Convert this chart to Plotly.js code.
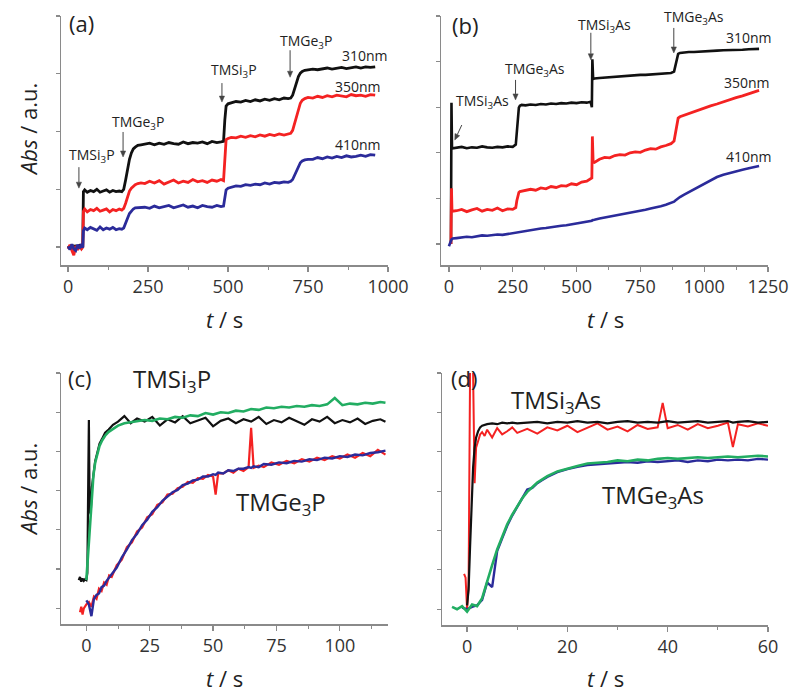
<!DOCTYPE html>
<html>
<head>
<meta charset="utf-8">
<script src="https://cdn.plot.ly/plotly-3.0.1.min.js"></script>
<style>html,body{margin:0;padding:0;background:#fff}#chart{width:800px;height:696px}</style>
</head>
<body>
<div id="chart"></div>
<script>
// ---------- Panel (a): TMSi3P / TMGe3P additions, absorbance at 3 wavelengths ----------
const tA = [0,6,12,18,24,30,36,42,46,
  48,52,60,70,80,90,100,110,120,130,140,150,160,168,
  174,180,186,192,198,204,210,218,228,
  240,255,270,285,300,315,330,345,360,375,390,405,420,435,450,465,478,486,
  490,494,500,510,525,540,555,570,585,600,615,630,645,660,675,688,696,
  702,708,714,720,726,732,740,750,
  765,780,795,810,825,840,855,870,885,900,915,930,945,960];
const a310 = [0.02,-0.03,0.04,-0.02,0.03,-0.04,0.02,-0.02,0.01,
  0.96,0.99,0.95,0.98,0.96,1.00,0.95,0.97,0.99,0.95,0.98,0.96,0.97,0.96,
  1.00,1.16,1.36,1.52,1.63,1.70,1.73,1.76,1.77,
  1.78,1.80,1.77,1.80,1.78,1.81,1.79,1.78,1.82,1.79,1.81,1.80,1.82,1.79,1.83,1.81,1.82,1.83,
  2.20,2.44,2.48,2.50,2.52,2.51,2.54,2.52,2.55,2.53,2.56,2.54,2.57,2.55,2.58,2.57,2.58,
  2.63,2.74,2.86,2.95,3.01,3.04,3.06,3.07,
  3.08,3.07,3.09,3.10,3.08,3.10,3.11,3.09,3.11,3.12,3.10,3.12,3.11,3.12];
const a350 = [-0.03,0.04,-0.06,-0.14,0.02,-0.05,0.03,-0.03,0.00,
  0.62,0.66,0.61,0.65,0.63,0.67,0.62,0.64,0.66,0.61,0.65,0.63,0.66,0.64,
  0.67,0.76,0.88,0.97,1.02,1.06,1.08,1.10,1.11,
  1.10,1.14,1.11,1.15,1.09,1.13,1.16,1.11,1.14,1.12,1.17,1.13,1.15,1.12,1.16,1.14,1.17,1.15,
  1.60,1.86,1.88,1.90,1.89,1.92,1.90,1.93,1.91,1.94,1.92,1.95,1.93,1.96,1.94,1.96,1.97,
  2.02,2.14,2.28,2.40,2.49,2.54,2.57,2.59,
  2.58,2.61,2.59,2.62,2.60,2.63,2.61,2.60,2.64,2.62,2.63,2.61,2.64,2.63];
const a410 = [0.01,-0.04,0.05,-0.03,-0.06,0.04,-0.02,0.05,-0.01,
  0.28,0.33,0.30,0.34,0.31,0.29,0.35,0.30,0.33,0.31,0.34,0.30,0.32,0.31,
  0.33,0.40,0.50,0.58,0.63,0.66,0.68,0.68,0.69,
  0.69,0.67,0.71,0.68,0.70,0.72,0.68,0.70,0.73,0.69,0.71,0.68,0.72,0.70,0.69,0.72,0.70,0.71,
  0.88,0.99,1.02,1.04,1.06,1.05,1.08,1.07,1.09,1.08,1.11,1.09,1.12,1.11,1.13,1.12,1.14,
  1.17,1.24,1.33,1.40,1.46,1.49,1.51,1.52,
  1.52,1.55,1.53,1.56,1.54,1.57,1.55,1.58,1.56,1.57,1.59,1.57,1.60,1.59];

// ---------- Panel (b): TMSi3As / TMGe3As additions ----------
const tB = [0,5,8,10,12,15,
  30,50,70,90,110,130,150,170,190,210,230,250,
  262,266,270,274,278,285,
  300,320,340,360,380,400,420,440,460,480,500,520,540,
  555,560,562,565,570,
  590,610,630,650,670,690,710,730,750,770,790,810,830,850,870,
  882,886,890,894,898,905,
  920,940,960,980,1000,1025,1050,1075,1100,1125,1150,1175,1200,1215];
const b310 = [null,null,0.0,3.10,2.12,2.10,
  2.11,2.13,2.10,2.12,2.11,2.14,2.12,2.11,2.13,2.12,2.14,2.13,
  2.18,2.50,2.85,2.99,3.03,3.05,
  3.04,3.06,3.05,3.07,3.06,3.08,3.07,3.09,3.08,3.10,3.09,3.11,3.10,
  3.12,3.00,4.05,3.62,3.63,
  3.64,3.65,3.66,3.66,3.68,3.68,3.69,3.70,3.71,3.71,3.72,3.73,3.74,3.74,3.75,
  3.78,3.88,4.02,4.12,4.17,4.19,
  4.20,4.21,4.21,4.22,4.23,4.23,4.24,4.25,4.25,4.26,4.26,4.27,4.28,4.28];
const b350 = [null,null,0.0,1.22,0.74,0.72,
  0.73,0.76,0.71,0.75,0.78,0.72,0.76,0.74,0.79,0.73,0.77,0.76,
  0.80,0.95,1.08,1.13,1.15,1.16,
  1.17,1.20,1.18,1.23,1.21,1.26,1.24,1.28,1.27,1.32,1.30,1.36,1.38,
  1.42,1.45,2.36,1.80,1.79,
  1.86,1.90,1.89,1.94,1.96,1.95,2.00,2.02,2.01,2.06,2.09,2.08,2.13,2.16,2.20,
  2.26,2.40,2.58,2.70,2.76,2.79,
  2.82,2.87,2.90,2.95,2.98,3.03,3.07,3.12,3.16,3.21,3.25,3.30,3.34,3.37];
const b410 = [-0.05,0.04,0.08,0.10,0.11,0.12,
  0.13,0.14,0.16,0.15,0.17,0.19,0.18,0.20,0.21,0.20,0.22,0.23,
  0.24,0.25,0.25,0.26,0.26,0.27,
  0.29,0.31,0.32,0.34,0.35,0.37,0.38,0.40,0.41,0.43,0.44,0.46,0.48,
  0.50,0.51,0.52,0.52,0.53,
  0.56,0.58,0.61,0.63,0.65,0.67,0.69,0.71,0.73,0.75,0.78,0.80,0.83,0.86,0.90,
  0.93,0.95,0.97,0.99,1.01,1.03,
  1.08,1.14,1.20,1.26,1.32,1.40,1.47,1.52,1.56,1.59,1.63,1.66,1.69,1.71];

// ---------- Panel (c): kinetics, TMSi3P (black data, green) and TMGe3P (red data, blue) ----------
const tCfast = [-3,-2.5,-2,-1.5,-1,-0.5,0,
  0.4,0.8,1.0,1.3,1.7,2.2,2.8,3.5,4.3,5.2,6.2,7.4,8.8,10.5,12.5,
  15,17.5,20,
  23,26,29,32,35,38,41,44,47,50,53,56,59,62,65,68,71,74,77,80,83,86,89,92,95,98,101,104,107,110,113,116,118];
const cSiBlack = [0.36,0.40,0.34,0.38,0.35,0.37,0.36,
  0.45,1.80,2.40,1.25,1.20,1.55,1.72,1.88,1.98,2.10,2.16,2.24,2.28,2.34,2.38,
  2.45,2.36,2.42,
  2.38,2.44,2.33,2.41,2.37,2.45,2.36,2.40,2.43,2.32,2.39,2.42,2.36,2.41,2.38,2.44,2.35,2.40,2.37,2.43,2.39,2.34,2.41,2.38,2.44,2.36,2.40,2.37,2.42,2.35,2.39,2.41,2.38];
const cSiGreen = [null,null,null,null,null,null,0.36,
  0.55,0.80,0.92,1.08,1.28,1.50,1.70,1.86,1.98,2.07,2.14,2.20,2.25,2.29,2.33,
  2.36,2.37,2.38,
  2.40,2.39,2.42,2.41,2.44,2.43,2.46,2.45,2.49,2.47,2.50,2.49,2.52,2.51,2.54,2.53,2.56,2.55,2.57,2.56,2.58,2.57,2.59,2.58,2.60,2.68,2.59,2.61,2.60,2.62,2.61,2.63,2.62];
const tCslow = [-2.5,-2,-1.5,-1,
  0,1,2,3,4,5,6,7,8,9,10,
  12,14,16,18,20,22,24,26,28,30,32,34,36,38,40,42,44,46,48,50,
  51,52,54,56,58,60,62,64,65,66,68,70,
  73,76,79,82,85,88,91,94,97,100,103,106,109,112,115,118];
const cGeRed = [-0.05,0.02,-0.08,0.00,
  0.05,0.08,0.02,0.15,0.12,0.25,0.22,0.33,0.30,0.42,0.40,
  0.55,0.62,0.78,0.84,0.98,1.03,1.16,1.20,1.32,1.35,1.45,1.46,1.53,1.55,1.61,1.60,1.66,1.65,1.70,1.68,
  1.45,1.72,1.72,1.76,1.73,1.78,1.75,1.80,2.30,1.79,1.82,1.80,
  1.86,1.83,1.88,1.85,1.90,1.87,1.92,1.89,1.94,1.91,1.96,1.92,1.98,1.94,2.02,1.96];
const cGeBlue = [null,null,null,null,
  0.10,0.05,-0.10,0.12,0.17,0.19,0.27,0.29,0.35,0.39,0.44,
  0.52,0.65,0.75,0.87,0.95,1.06,1.13,1.23,1.29,1.37,1.42,1.48,1.51,1.57,1.59,1.63,1.64,1.68,1.68,1.71,
  1.70,1.73,1.72,1.76,1.75,1.78,1.78,1.80,1.79,1.81,1.80,1.84,
  1.83,1.86,1.85,1.88,1.87,1.90,1.89,1.92,1.91,1.94,1.93,1.96,1.95,1.98,1.99,2.01];

// ---------- Panel (d): kinetics, TMSi3As (black, red) and TMGe3As (blue, green) ----------
const tDfast = [-2,-1.5,-1,-0.6,-0.3,0,
  0.3,0.6,0.9,1.2,1.5,1.8,
  2.2,2.6,3,3.5,4,
  5,6,7,8,9,10,
  12,14,16,18,20,22,24,26,28,30,32,34,36,38,
  39,40,42,44,46,48,50,52,53,54,56,58,60];
const dSiRed = [null,null,null,0.45,0.40,0.00,
  0.30,3.05,3.10,3.00,1.60,2.05,
  2.15,2.22,2.25,2.20,2.28,
  2.18,2.30,2.22,2.26,2.31,2.24,
  2.29,2.23,2.31,2.27,2.33,2.25,2.30,2.36,2.28,2.32,2.26,2.34,2.29,2.31,
  2.62,2.30,2.34,2.28,2.35,2.30,2.33,2.37,2.06,2.35,2.32,2.36,2.33];
const dSiBlack = [null,null,null,null,null,0.05,
  0.25,0.80,1.40,1.80,2.05,2.18,
  2.26,2.31,2.33,2.34,2.35,
  2.36,2.35,2.37,2.36,2.37,2.36,
  2.37,2.38,2.36,2.38,2.37,2.39,2.37,2.38,2.36,2.38,2.39,2.37,2.38,2.37,
  2.38,2.39,2.37,2.38,2.39,2.37,2.38,2.39,2.37,2.38,2.39,2.37,2.38];
const tDslow = [-3,-2,-1,0,1,2,3,4,5,6,7,8,9,10,11,12,13,14,15,16,
  18,20,22,24,26,28,30,32,34,36,38,40,42,44,46,48,50,52,54,56,58,60];
const dGeBlue = [null,null,0.02,0.00,0.03,0.05,0.12,0.34,0.28,0.74,0.90,1.06,1.19,1.30,1.40,1.52,1.54,1.60,1.64,1.68,
  1.74,1.78,1.81,1.83,1.84,1.85,1.86,1.87,1.86,1.88,1.87,1.88,1.89,1.87,1.89,1.88,1.90,1.89,1.90,1.89,1.91,1.90];
const dGeGreen = [0.03,0.00,0.04,-0.03,0.06,0.04,0.14,0.36,0.56,0.76,0.92,1.08,1.20,1.31,1.41,1.49,1.55,1.61,1.65,1.69,
  1.75,1.79,1.82,1.85,1.86,1.87,1.89,1.88,1.90,1.89,1.91,1.92,1.91,1.92,1.93,1.92,1.93,1.94,1.93,1.94,1.95,1.94];

// ---------- styling ----------
const BLACK = '#111111', RED = '#f42222', BLUE = '#2b2b9a', GREEN = '#22ad62';
const FONT = 'Open Sans, Noto Sans, sans-serif';
const AX = '#8a8a8a';

function line(x, y, color, xa, ya, w) {
  return {x: x, y: y, type: 'scatter', mode: 'lines', xaxis: xa, yaxis: ya,
    line: {color: color, width: w}, hoverinfo: 'skip'};
}

const data = [
  line(tA, a310, BLACK, 'x', 'y', 2.8),
  line(tA, a350, RED, 'x', 'y', 2.8),
  line(tA, a410, BLUE, 'x', 'y', 2.8),
  line(tB, b310, BLACK, 'x2', 'y2', 2.6),
  line(tB, b350, RED, 'x2', 'y2', 2.8),
  line(tB, b410, BLUE, 'x2', 'y2', 2.6),
  line(tCfast, cSiBlack, BLACK, 'x3', 'y3', 2.2),
  line(tCfast, cSiGreen, GREEN, 'x3', 'y3', 2.6),
  line(tCslow, cGeRed, RED, 'x3', 'y3', 2.2),
  line(tCslow, cGeBlue, BLUE, 'x3', 'y3', 2.4),
  line(tDfast, dSiRed, RED, 'x4', 'y4', 2),
  line(tDfast, dSiBlack, BLACK, 'x4', 'y4', 2.2),
  line(tDslow, dGeBlue, BLUE, 'x4', 'y4', 2.4),
  line(tDslow, dGeGreen, GREEN, 'x4', 'y4', 2.6)
];

// panel geometry (pixels)
const PANEL = {
  a: {xd: [61, 388], yd: [265, 16], xr: [-22, 1000], yr: [-0.31, 4.0]},
  b: {xd: [441, 768], yd: [265, 16], xr: [-31, 1250], yr: [-0.46, 5.0]},
  c: {xd: [61, 388], yd: [624, 373], xr: [-10, 119], yr: [-0.2, 3.0]},
  d: {xd: [442, 768], yd: [625, 373], xr: [-5, 60], yr: [-0.2, 3.0]}
};

function xax(p, dtick, minor, anchor) {
  return {domain: [p.xd[0]/800, p.xd[1]/800], range: p.xr, anchor: anchor, tick0: 0, dtick: dtick,
    ticks: 'outside', ticklen: 5, tickwidth: 1.2, tickcolor: AX,
    minor: {dtick: minor, tick0: 0, ticks: 'outside', ticklen: 3, tickcolor: AX, tickwidth: 1},
    showline: true, linecolor: AX, linewidth: 1.5, showgrid: false, zeroline: false,
    tickfont: {family: FONT, size: 18, color: '#333'}, fixedrange: true};
}
function yax(p, dtick, anchor) {
  return {domain: [1 - p.yd[0]/696, 1 - p.yd[1]/696], range: p.yr, anchor: anchor, tick0: 0, dtick: dtick,
    ticks: 'outside', ticklen: 4, tickwidth: 1.2, tickcolor: AX, showticklabels: false,
    showline: true, linecolor: AX, linewidth: 1.5, showgrid: false, zeroline: false, fixedrange: true};
}

function txt(text, x, y, xref, yref, size, extra) {
  return Object.assign({text: text, x: x, y: y, xref: xref, yref: yref, showarrow: false,
    font: {family: FONT, size: size, color: '#222'}, xanchor: 'center', yanchor: 'middle'}, extra || {});
}

// arrow drawn as shapes: head at data (x, y), tail offset (ax, ay) in screen pixels
function arrowShapes(p, xref, yref, x, y, ax, ay) {
  const ux = (p.xr[1] - p.xr[0]) / (p.xd[1] - p.xd[0]);
  const uy = (p.yr[1] - p.yr[0]) / (p.yd[0] - p.yd[1]);
  const len = Math.hypot(ax, ay);
  const dx = -ax / len, dy = -ay / len;
  const px = -dy, py = dx;
  const H = 6, W = 2.6;
  const P = (sx, sy) => [x + sx * ux, y - sy * uy];
  const tail = P(ax, ay);
  const base = P(-dx * H, -dy * H);
  const b1 = P(-dx * H + px * W, -dy * H + py * W);
  const b2 = P(-dx * H - px * W, -dy * H - py * W);
  return [
    {type: 'line', xref: xref, yref: yref, x0: tail[0], y0: tail[1], x1: base[0], y1: base[1],
      line: {color: '#444', width: 1}},
    {type: 'path', xref: xref, yref: yref,
      path: 'M' + x + ',' + y + 'L' + b1[0] + ',' + b1[1] + 'L' + b2[0] + ',' + b2[1] + 'Z',
      fillcolor: '#444', line: {color: '#444', width: 0.5}}
  ];
}

const shapes = [].concat(
  arrowShapes(PANEL.a, 'x', 'y', 34, 1.02, 0, -21),
  arrowShapes(PANEL.a, 'x', 'y', 172, 1.56, 0, -25),
  arrowShapes(PANEL.a, 'x', 'y', 481, 2.51, 0, -19),
  arrowShapes(PANEL.a, 'x', 'y', 694, 2.94, 0, -27),
  arrowShapes(PANEL.b, 'x2', 'y2', 23, 2.28, 7, -15),
  arrowShapes(PANEL.b, 'x2', 'y2', 261, 3.16, 0, -20),
  arrowShapes(PANEL.b, 'x2', 'y2', 556, 4.04, 0, -27),
  arrowShapes(PANEL.b, 'x2', 'y2', 881, 4.19, 0, -25)
);

const annotations = [
  txt('(a)', 81.5/800, 1 - 23/696, 'paper', 'paper', 22),
  txt('(b)', 465/800, 1 - 25/696, 'paper', 'paper', 22),
  txt('(c)', 80/800, 1 - 378/696, 'paper', 'paper', 22),
  txt('(d)', 464/800, 1 - 378/696, 'paper', 'paper', 22),
  txt('<i>Abs</i> / a.u.', 28/800, 1 - 130/696, 'paper', 'paper', 22, {textangle: -90}),
  txt('<i>Abs</i> / a.u.', 28/800, 1 - 490/696, 'paper', 'paper', 22, {textangle: -90}),
  txt('<i>t</i> / s', 224/800, 1 - 319/696, 'paper', 'paper', 22),
  txt('<i>t</i> / s', 605/800, 1 - 319/696, 'paper', 'paper', 22),
  txt('<i>t</i> / s', 224/800, 1 - 678/696, 'paper', 'paper', 22),
  txt('<i>t</i> / s', 605/800, 1 - 678/696, 'paper', 'paper', 22),
  txt('TMSi<sub>3</sub>P', 75, 1.59, 'x', 'y', 14),
  txt('TMGe<sub>3</sub>P', 219, 2.16, 'x', 'y', 14),
  txt('TMSi<sub>3</sub>P', 519, 3.06, 'x', 'y', 14),
  txt('TMGe<sub>3</sub>P', 744, 3.55, 'x', 'y', 14),
  txt('310nm', 928, 3.32, 'x', 'y', 14),
  txt('350nm', 906, 2.78, 'x', 'y', 14),
  txt('410nm', 906, 1.77, 'x', 'y', 14),
  txt('TMSi<sub>3</sub>As', 133, 3.12, 'x2', 'y2', 14),
  txt('TMGe<sub>3</sub>As', 337, 3.82, 'x2', 'y2', 14),
  txt('TMSi<sub>3</sub>As', 611, 4.80, 'x2', 'y2', 14),
  txt('TMGe<sub>3</sub>As', 960, 4.96, 'x2', 'y2', 14),
  txt('310nm', 1175, 4.52, 'x2', 'y2', 14),
  txt('350nm', 1168, 3.55, 'x2', 'y2', 14),
  txt('410nm', 1175, 1.91, 'x2', 'y2', 14),
  txt('TMSi<sub>3</sub>P', 33.8, 2.91, 'x3', 'y3', 24),
  txt('TMGe<sub>3</sub>P', 76.7, 1.34, 'x3', 'y3', 24),
  txt('TMSi<sub>3</sub>As', 17.7, 2.65, 'x4', 'y4', 24),
  txt('TMGe<sub>3</sub>As', 37.1, 1.44, 'x4', 'y4', 24)
];

const layout = {
  width: 800, height: 696, margin: {l: 0, r: 0, t: 0, b: 0},
  paper_bgcolor: '#ffffff', plot_bgcolor: 'rgba(0,0,0,0)', showlegend: false,
  xaxis: xax(PANEL.a, 250, 125, 'y'),
  yaxis: yax(PANEL.a, 1, 'x'),
  xaxis2: xax(PANEL.b, 250, 125, 'y2'),
  yaxis2: yax(PANEL.b, 1, 'x2'),
  xaxis3: xax(PANEL.c, 25, 12.5, 'y3'),
  yaxis3: yax(PANEL.c, 0.5, 'x3'),
  xaxis4: xax(PANEL.d, 20, 10, 'y4'),
  yaxis4: yax(PANEL.d, 0.5, 'x4'),
  shapes: shapes,
  annotations: annotations
};

Plotly.newPlot('chart', data, layout, {staticPlot: true, displayModeBar: false});
</script>
</body>
</html>
